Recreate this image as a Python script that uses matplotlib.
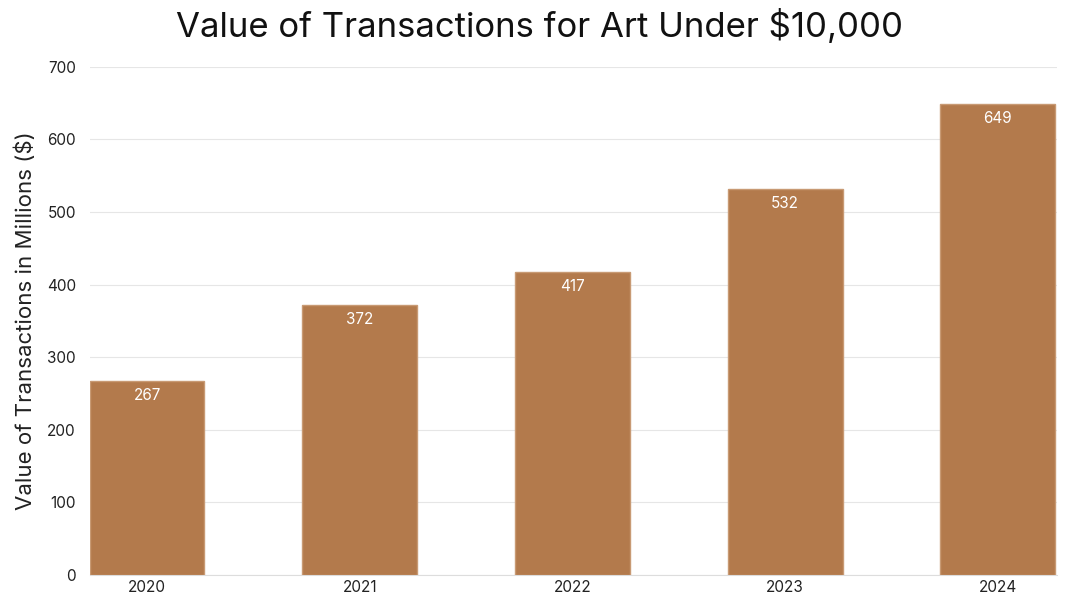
import matplotlib
matplotlib.use("Agg")
import matplotlib.pyplot as plt

years = ["2020", "2021", "2022", "2023", "2024"]
values = [267, 372, 417, 532, 649]

plt.rcParams['font.family'] = ['Inter', 'DejaVu Sans']
fig = plt.figure(figsize=(10.8, 6.07), dpi=100)
ax = fig.add_axes([0.083, 0.053, 0.896, 0.837])
x = range(len(years))
bars = ax.bar(x, values, width=0.54, color="#B37A4C", edgecolor="#C89A74", linewidth=1, zorder=3)
for xi, v in zip(x, values):
    ax.text(xi, v - 10, str(v), ha="center", va="top", color="white", fontsize=11, zorder=4)
ax.set_xlim(-0.27, 4.28)
ax.set_ylim(0, 700)
ax.set_yticks(range(0, 701, 100))
ax.set_xticks(list(x))
ax.set_xticklabels(years)
ax.tick_params(length=0, labelsize=11, colors="#222222")
ax.tick_params(axis='y', pad=10)
ax.grid(axis='y', color="#E6E6E6", linewidth=0.8, zorder=0)
for s in ["top", "right", "left"]:
    ax.spines[s].set_visible(False)
ax.spines["bottom"].set_color("#DDDDDD")
ax.set_ylabel("Value of Transactions in Millions ($)", fontsize=16, color="#222222", labelpad=8)
fig.suptitle("Value of Transactions for Art Under $10,000", fontsize=25, y=0.985, color="#111111")
fig.savefig("out.png", dpi=100)
